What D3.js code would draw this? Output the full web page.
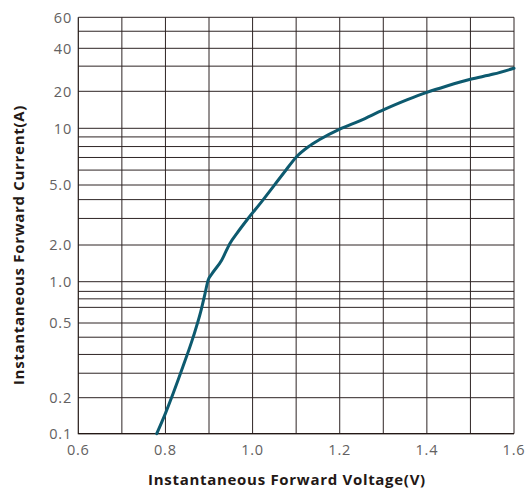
<!DOCTYPE html>
<html>
<head>
<meta charset="utf-8">
<script src="https://cdn.jsdelivr.net/npm/d3@7"></script>
<style>
  body { margin: 0; background: #fff; }
  text { font-family: "Open Sans", "DejaVu Sans", sans-serif; }
</style>
</head>
<body>
<div id="chart"></div>
<script>
// forward characteristic
const voltage = [0.78, 0.80, 0.84, 0.864, 0.881, 0.891, 0.898, 0.906, 0.929, 0.948, 0.964, 0.987, 1.02, 1.071, 1.101, 1.128, 1.155, 1.20, 1.246, 1.30, 1.354, 1.40, 1.446, 1.50, 1.553, 1.60];
const current = [0.1, 0.148, 0.292, 0.423, 0.604, 0.823, 1.03, 1.15, 1.5, 2.05, 2.39, 2.93, 3.85, 5.77, 7.07, 7.98, 8.74, 9.9, 11.5, 14.1, 17.0, 19.6, 21.8, 24.3, 26.4, 29.0];

const xTicks = [0.6, 0.8, 1.0, 1.2, 1.4, 1.6];
const xGrid = [0.7, 0.8, 0.9, 1.0, 1.1, 1.2, 1.3, 1.4, 1.5, 1.6];
const yTicks = [0.1, 0.2, 0.5, 1, 2, 5, 10, 20, 40, 60];
const yTickLabels = ["0.1", "0.2", "0.5", "1.0", "2.0", "5.0", "10", "20", "40", "60"];
const yGrid = [0.1, 0.2, 0.27, 0.34, 0.42, 0.5, 0.65, 0.75, 0.85, 1, 2, 3, 4, 5, 6, 7, 8, 9, 10, 20, 30, 40, 50, 60];

const W = 526, H = 491;
const plot = { left: 78.3, right: 514, top: 17.3, bottom: 433.7 };

const svg = d3.select("#chart").append("svg")
  .attr("width", W)
  .attr("height", H);

const x = d3.scaleLinear()
  .domain([0.6, 1.6])
  .range([plot.left, plot.right]);

// the printed axis is not an even log grid, so the log scale is pinned at each labelled tick
const y = d3.scaleLog()
  .domain(yTicks)
  .range([433.7, 397.7, 323, 281.7, 245, 185, 128.3, 91.3, 48.3, plot.top]);

const gridColor = "#2e2424";

svg.append("g")
  .selectAll("line")
  .data(yGrid)
  .enter()
  .append("line")
  .attr("x1", plot.left)
  .attr("x2", plot.right)
  .attr("y1", (d) => y(d))
  .attr("y2", (d) => y(d))
  .attr("stroke", gridColor)
  .attr("stroke-width", 1);

svg.append("g")
  .selectAll("line")
  .data(xGrid)
  .enter()
  .append("line")
  .attr("x1", (d) => x(d))
  .attr("x2", (d) => x(d))
  .attr("y1", plot.top)
  .attr("y2", plot.bottom)
  .attr("stroke", gridColor)
  .attr("stroke-width", 1);

// frame: left and bottom
svg.append("path")
  .attr("d", `M${plot.left},${plot.top}V${plot.bottom}H${plot.right}`)
  .attr("fill", "none")
  .attr("stroke", "#231815")
  .attr("stroke-width", 1.2);

const pts = voltage.map((v, i) => ({ v: v, i: current[i] }));

const line = d3.line()
  .x((d) => x(d.v))
  .y((d) => y(d.i))
  .curve(d3.curveMonotoneX);

svg.append("path")
  .datum(pts)
  .attr("fill", "none")
  .attr("stroke", "#0d5a6f")
  .attr("stroke-width", 3)
  .attr("stroke-linecap", "round")
  .attr("d", line);

// tick labels
svg.append("g")
  .selectAll("text")
  .data(xTicks)
  .enter()
  .append("text")
  .attr("x", (d) => x(d))
  .attr("y", 455)
  .attr("text-anchor", "middle")
  .style("font-size", "14.5px")
  .style("letter-spacing", "0.8px")
  .style("fill", "#636161")
  .text((d) => d.toFixed(1));

svg.append("g")
  .selectAll("text")
  .data(yTicks)
  .enter()
  .append("text")
  .attr("x", 72)
  .attr("y", (d) => y(d))
  .attr("dy", "0.36em")
  .attr("text-anchor", "end")
  .style("font-size", "14.5px")
  .style("letter-spacing", "0.8px")
  .style("fill", "#636161")
  .text((d, i) => yTickLabels[i]);

// axis titles
svg.append("text")
  .attr("x", 287)
  .attr("y", 485)
  .attr("text-anchor", "middle")
  .style("font-size", "15px")
  .style("font-weight", "bold")
  .style("letter-spacing", "0.7px")
  .style("fill", "#231815")
  .text("Instantaneous Forward Voltage(V)");

svg.append("text")
  .attr("transform", "translate(24,245) rotate(-90)")
  .attr("text-anchor", "middle")
  .style("font-size", "15px")
  .style("font-weight", "bold")
  .style("letter-spacing", "0.7px")
  .style("fill", "#231815")
  .text("Instantaneous Forward Current(A)");
</script>
</body>
</html>
